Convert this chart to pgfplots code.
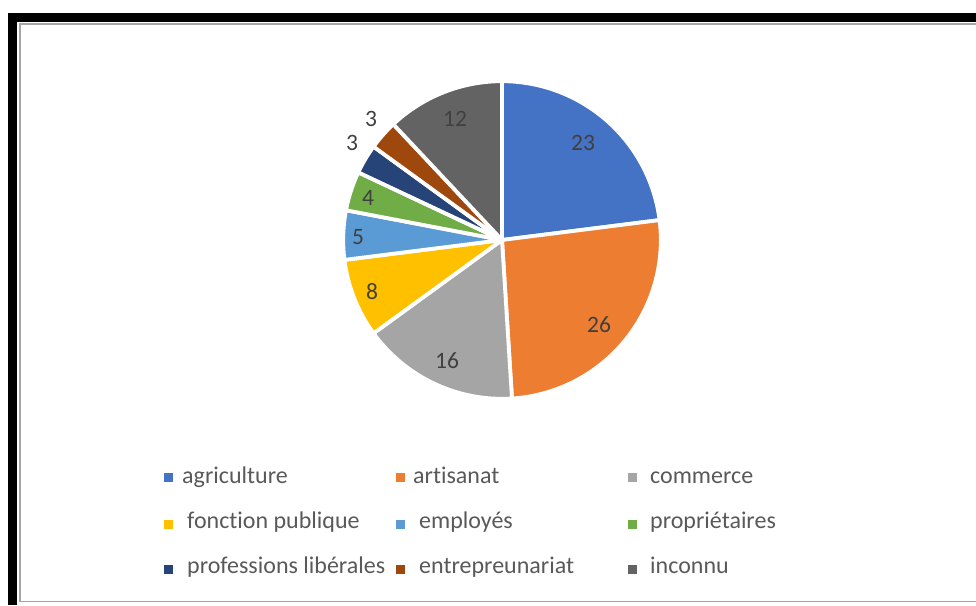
\documentclass[border=0pt]{standalone}
\usepackage{fontspec}
\setmainfont{Carlito}[Ligatures={NoCommon}]
\usepackage{pgfplots}
\pgfplotsset{compat=1.18}
\definecolor{cA}{HTML}{4472C4}
\definecolor{cB}{HTML}{ED7D31}
\definecolor{cC}{HTML}{A5A5A5}
\definecolor{cD}{HTML}{FFC000}
\definecolor{cE}{HTML}{5B9BD5}
\definecolor{cF}{HTML}{70AD47}
\definecolor{cG}{HTML}{264478}
\definecolor{cH}{HTML}{9E480E}
\definecolor{cI}{HTML}{636363}
\definecolor{labgray}{HTML}{404040}
\definecolor{leggray}{HTML}{595959}
% values: agriculture 23, artisanat 26, commerce 16, fonction publique 8,
% employes 5, proprietaires 4, professions liberales 3, entrepreunariat 3, inconnu 12
% slice angles (start at 90 deg, clockwise, 3.6 deg per unit)
\pgfplotsset{
  slice/.style={fill=#1, draw=white, line width=3.8pt, line join=round, samples=90, forget plot},
}
\begin{document}
\begin{tikzpicture}
\useasboundingbox (0,0) rectangle (976pt,605pt);
\begin{axis}[
  at={(0,0)}, anchor=south west,
  width=976pt, height=605pt, scale only axis,
  xmin=0, xmax=976, ymin=0, ymax=605,
  hide axis, clip=false,
]
% frame
\fill[black] (axis cs:8,583) rectangle (axis cs:976,592);
\fill[black] (axis cs:8,0) rectangle (axis cs:17,592);
\draw[line width=1.6pt, color=black!35] (axis cs:976,581) -- (axis cs:20,581) -- (axis cs:20,3.5) -- (axis cs:976,3.5);
% pie slices
\addplot[slice=cA, domain=7.2:90]      ({502+158.8*cos(x)},{365+158.8*sin(x)}) -- (axis cs:502,365) -- cycle;
\addplot[slice=cB, domain=-86.4:7.2]   ({502+158.8*cos(x)},{365+158.8*sin(x)}) -- (axis cs:502,365) -- cycle;
\addplot[slice=cC, domain=-144:-86.4]  ({502+158.8*cos(x)},{365+158.8*sin(x)}) -- (axis cs:502,365) -- cycle;
\addplot[slice=cD, domain=-172.8:-144] ({502+158.8*cos(x)},{365+158.8*sin(x)}) -- (axis cs:502,365) -- cycle;
\addplot[slice=cE, domain=-190.8:-172.8] ({502+158.8*cos(x)},{365+158.8*sin(x)}) -- (axis cs:502,365) -- cycle;
\addplot[slice=cF, domain=-205.2:-190.8] ({502+158.8*cos(x)},{365+158.8*sin(x)}) -- (axis cs:502,365) -- cycle;
\addplot[slice=cG, domain=-216:-205.2] ({502+158.8*cos(x)},{365+158.8*sin(x)}) -- (axis cs:502,365) -- cycle;
\addplot[slice=cH, domain=-226.8:-216] ({502+158.8*cos(x)},{365+158.8*sin(x)}) -- (axis cs:502,365) -- cycle;
\addplot[slice=cI, domain=-270:-226.8] ({502+158.8*cos(x)},{365+158.8*sin(x)}) -- (axis cs:502,365) -- cycle;
% data labels
\addplot[only marks, mark=*, mark size=0pt, mark options={draw=none,fill=none},
  nodes near coords, point meta=explicit symbolic,
  every node near coord/.append style={anchor=center, inner sep=0pt, text=labgray, font=\fontsize{23.5}{27}\selectfont}]
  coordinates {
  (583,462) [23]
  (599,280) [26]
  (447,244) [16]
  (372,313) [8]
  (358,368) [5]
  (368,407) [4]
  (352,462) [3]
  (371,486) [3]
  (455,486) [12]
  };
% legend squares
\addplot[only marks, mark=square*, mark size=4pt, color=cA] coordinates {(168,128)};
\addplot[only marks, mark=square*, mark size=4pt, color=cB] coordinates {(400,128)};
\addplot[only marks, mark=square*, mark size=4pt, color=cC] coordinates {(632,128)};
\addplot[only marks, mark=square*, mark size=4pt, color=cD] coordinates {(168,81)};
\addplot[only marks, mark=square*, mark size=4pt, color=cE] coordinates {(400,81)};
\addplot[only marks, mark=square*, mark size=4pt, color=cF] coordinates {(632,81)};
\addplot[only marks, mark=square*, mark size=4pt, color=cG] coordinates {(168,36)};
\addplot[only marks, mark=square*, mark size=4pt, color=cH] coordinates {(400,36)};
\addplot[only marks, mark=square*, mark size=4pt, color=cI] coordinates {(632,36)};
% legend texts
\addplot[only marks, mark=*, mark size=0pt, mark options={draw=none,fill=none},
  nodes near coords, point meta=explicit symbolic,
  every node near coord/.append style={anchor=base west, inner sep=0pt, text=leggray, font=\fontsize{24}{28}\selectfont}]
  coordinates {
  (182,122) [agriculture]
  (413,122) [artisanat]
  (650,122) [commerce]
  (187,77) [fonction publique]
  (419,77) [employés]
  (650,77) [propriétaires]
  (187,32) [professions libérales]
  (419,32) [entrepreunariat]
  (650,32) [inconnu]
  };
\end{axis}
\end{tikzpicture}
\end{document}
